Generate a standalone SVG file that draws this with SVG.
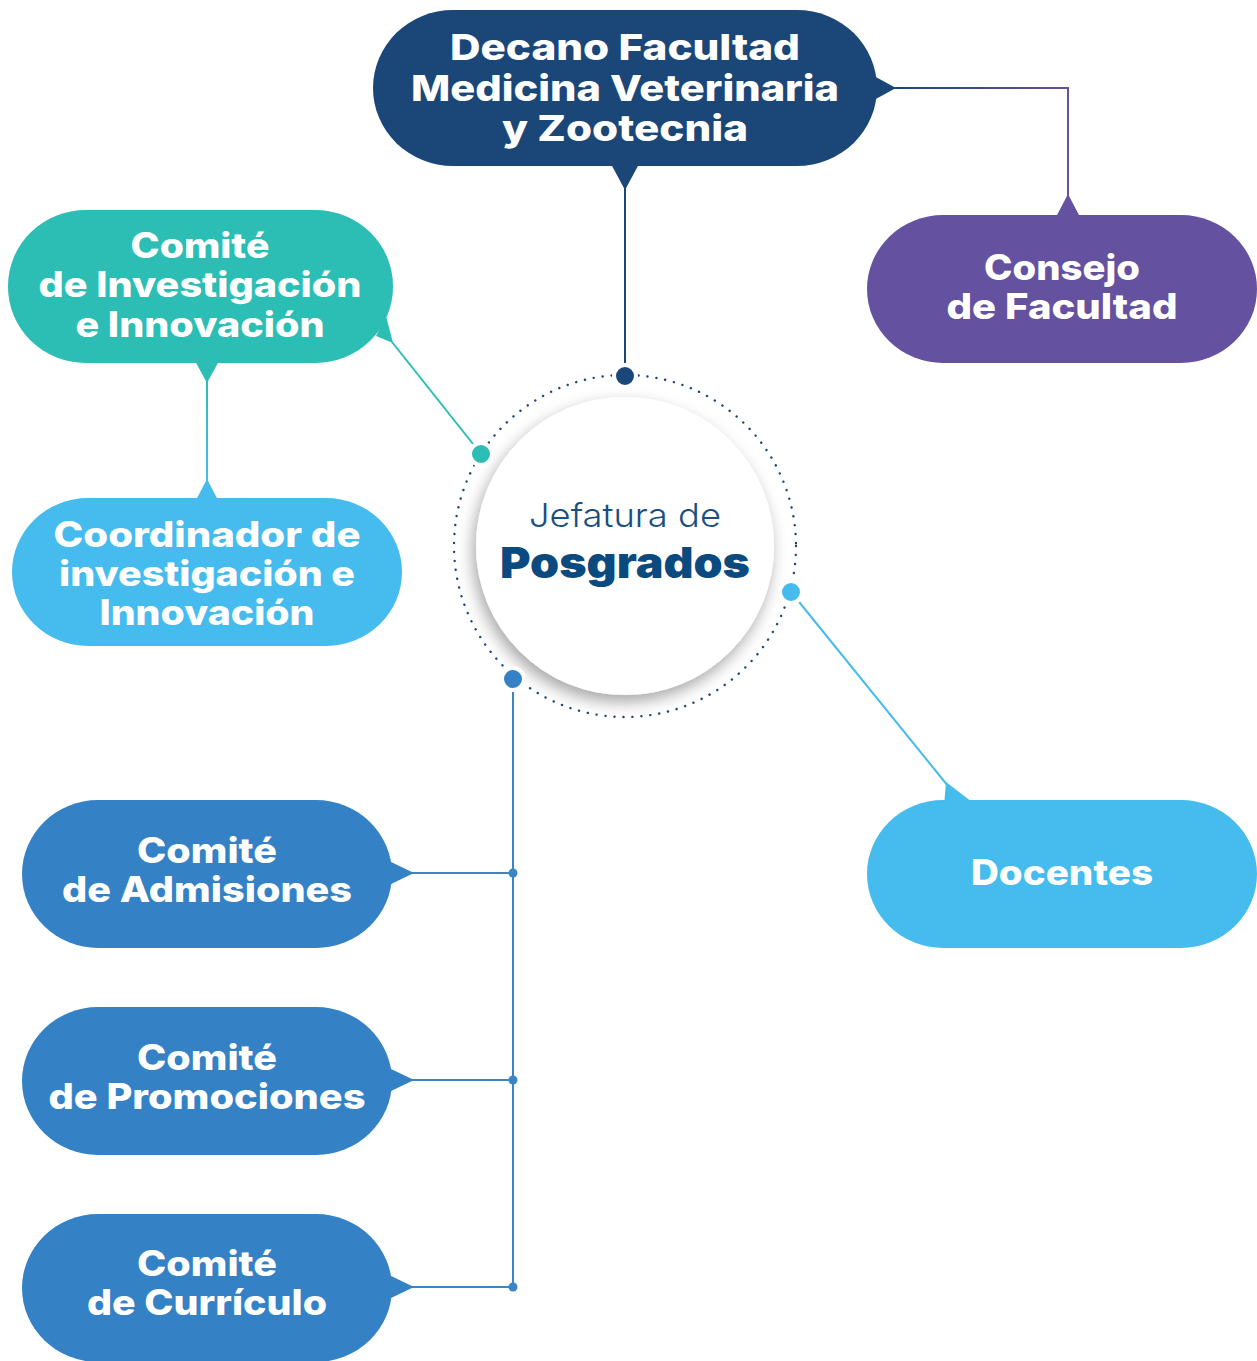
<svg xmlns="http://www.w3.org/2000/svg" width="1257" height="1361" viewBox="0 0 1257 1361">
<defs>
<style>
.lbl{font-family:Inter,"Open Sans","Liberation Sans",sans-serif;font-weight:800;fill:#ffffff;text-anchor:middle}
.f38{font-size:36px}
.f35{font-size:35px}
.con{fill:none;stroke-width:2}
.ring{stroke:#ffffff;stroke-width:4}
</style>
<linearGradient id="gDecCon" x1="895" y1="0" x2="1068" y2="0" gradientUnits="userSpaceOnUse">
<stop offset="0" stop-color="#1a4778"/><stop offset="1" stop-color="#6451a0"/>
</linearGradient>
<linearGradient id="gTealBlue" x1="0" y1="382" x2="0" y2="480" gradientUnits="userSpaceOnUse">
<stop offset="0" stop-color="#2cbdb5"/><stop offset="1" stop-color="#45bced"/>
</linearGradient>
<filter id="shadow" x="-20%" y="-20%" width="140%" height="140%">
<feDropShadow dx="-3" dy="7" stdDeviation="8" flood-color="#000000" flood-opacity="0.35"/>
</filter>
</defs>
<rect width="1257" height="1361" fill="#ffffff"/>

<g id="connectors">
<line class="con" x1="625" y1="188" x2="625" y2="376" stroke="#1a4778"/>
<polyline class="con" points="893,88 1068,88 1068,197" stroke="url(#gDecCon)"/>
<line class="con" x1="392" y1="342" x2="481" y2="454" stroke="#2cbdb5"/>
<line class="con" x1="207" y1="380" x2="207" y2="482" stroke="url(#gTealBlue)"/>
<line class="con" x1="791" y1="592" x2="948" y2="786" stroke="#45bced"/>
<line class="con" x1="513" y1="679" x2="513" y2="1287" stroke="#3a85c6"/>
<line class="con" x1="410" y1="873" x2="513" y2="873" stroke="#3a85c6"/>
<line class="con" x1="410" y1="1080" x2="513" y2="1080" stroke="#3a85c6"/>
<line class="con" x1="410" y1="1287" x2="513" y2="1287" stroke="#3a85c6"/>
<circle cx="513" cy="873" r="4.5" fill="#3a85c6"/>
<circle cx="513" cy="1080" r="4.5" fill="#3a85c6"/>
<circle cx="513" cy="1287" r="4.5" fill="#3a85c6"/>
</g>

<g id="jefatura">
<circle cx="625" cy="546" r="171" fill="none" stroke="#1a4778" stroke-width="2.4" stroke-linecap="round" stroke-dasharray="0.1 8.9"/>
<circle cx="625" cy="546" r="149" fill="#ffffff" filter="url(#shadow)"/>
<text x="625" y="527" font-family="Inter,'Open Sans','Liberation Sans',sans-serif" font-weight="300" font-size="33" fill="#1b4f80" text-anchor="middle" textLength="192" lengthAdjust="spacingAndGlyphs">Jefatura de</text>
<text x="625" y="578" font-family="Inter,'Open Sans','Liberation Sans',sans-serif" font-weight="900" font-size="43" fill="#0b4a7e" text-anchor="middle" textLength="250" lengthAdjust="spacingAndGlyphs">Posgrados</text>
<circle class="ring" cx="625" cy="376" r="11" fill="#1a4778"/>
<circle class="ring" cx="481" cy="454" r="11" fill="#2cbdb5"/>
<circle class="ring" cx="791" cy="592" r="11" fill="#45bced"/>
<circle class="ring" cx="513" cy="679" r="11" fill="#3482c5"/>
</g>

<g id="decano">
<rect x="373" y="10" width="504" height="156" rx="80" ry="78" fill="#1a4778"/>
<polygon points="611,164 639,164 625,190" fill="#1a4778"/>
<polygon points="874,76 874,100 896,88" fill="#1a4778"/>
<text class="lbl f38" x="625" y="60" textLength="350" lengthAdjust="spacingAndGlyphs">Decano Facultad</text>
<text class="lbl f38" x="625" y="101" textLength="428" lengthAdjust="spacingAndGlyphs">Medicina Veterinaria</text>
<text class="lbl f38" x="625" y="141" textLength="246" lengthAdjust="spacingAndGlyphs">y Zootecnia</text>
</g>

<g id="consejo">
<rect x="867" y="215" width="390" height="148" rx="76" ry="74" fill="#6451a0"/>
<polygon points="1056,217 1080,217 1068,194" fill="#6451a0"/>
<text class="lbl f35" x="1062" y="280" textLength="156" lengthAdjust="spacingAndGlyphs">Consejo</text>
<text class="lbl f35" x="1062" y="319" textLength="231" lengthAdjust="spacingAndGlyphs">de Facultad</text>
</g>

<g id="comite-investigacion">
<rect x="8" y="210" width="385" height="153" rx="78" ry="76" fill="#2cbdb5"/>
<polygon points="195,361 219,361 207,383" fill="#2cbdb5"/>
<polygon points="376,336 386,316 393,343" fill="#2cbdb5"/>
<text class="lbl f35" x="200" y="258" textLength="139" lengthAdjust="spacingAndGlyphs">Comité</text>
<text class="lbl f35" x="200" y="297" textLength="323" lengthAdjust="spacingAndGlyphs">de Investigación</text>
<text class="lbl f35" x="200" y="337" textLength="249" lengthAdjust="spacingAndGlyphs">e Innovación</text>
</g>

<g id="coordinador">
<rect x="12" y="498" width="390" height="148" rx="76" ry="74" fill="#45bced"/>
<polygon points="196,500 218,500 207,479" fill="#45bced"/>
<text class="lbl f35" x="207" y="547" textLength="307" lengthAdjust="spacingAndGlyphs">Coordinador de</text>
<text class="lbl f35" x="207" y="586" textLength="296" lengthAdjust="spacingAndGlyphs">investigación e</text>
<text class="lbl f35" x="207" y="625" textLength="215" lengthAdjust="spacingAndGlyphs">Innovación</text>
</g>

<g id="docentes">
<rect x="867" y="800" width="390" height="148" rx="76" ry="74" fill="#45bced"/>
<polygon points="946,782 944,806 972,802" fill="#45bced"/>
<text class="lbl f35" x="1062" y="885" textLength="182" lengthAdjust="spacingAndGlyphs">Docentes</text>
</g>

<g id="comite-admisiones">
<rect x="22" y="800" width="370" height="148" rx="76" ry="74" fill="#3482c5"/>
<polygon points="389,861 389,885 414,873" fill="#3482c5"/>
<text class="lbl f35" x="207" y="863" textLength="140" lengthAdjust="spacingAndGlyphs">Comité</text>
<text class="lbl f35" x="207" y="902" textLength="290" lengthAdjust="spacingAndGlyphs">de Admisiones</text>
</g>

<g id="comite-promociones">
<rect x="22" y="1007" width="370" height="148" rx="76" ry="74" fill="#3482c5"/>
<polygon points="389,1068 389,1092 414,1080" fill="#3482c5"/>
<text class="lbl f35" x="207" y="1070" textLength="140" lengthAdjust="spacingAndGlyphs">Comité</text>
<text class="lbl f35" x="207" y="1109" textLength="317" lengthAdjust="spacingAndGlyphs">de Promociones</text>
</g>

<g id="comite-curriculo">
<rect x="22" y="1214" width="370" height="148" rx="76" ry="74" fill="#3482c5"/>
<polygon points="389,1275 389,1299 414,1287" fill="#3482c5"/>
<text class="lbl f35" x="207" y="1276" textLength="140" lengthAdjust="spacingAndGlyphs">Comité</text>
<text class="lbl f35" x="207" y="1315" textLength="240" lengthAdjust="spacingAndGlyphs">de Currículo</text>
</g>
</svg>
